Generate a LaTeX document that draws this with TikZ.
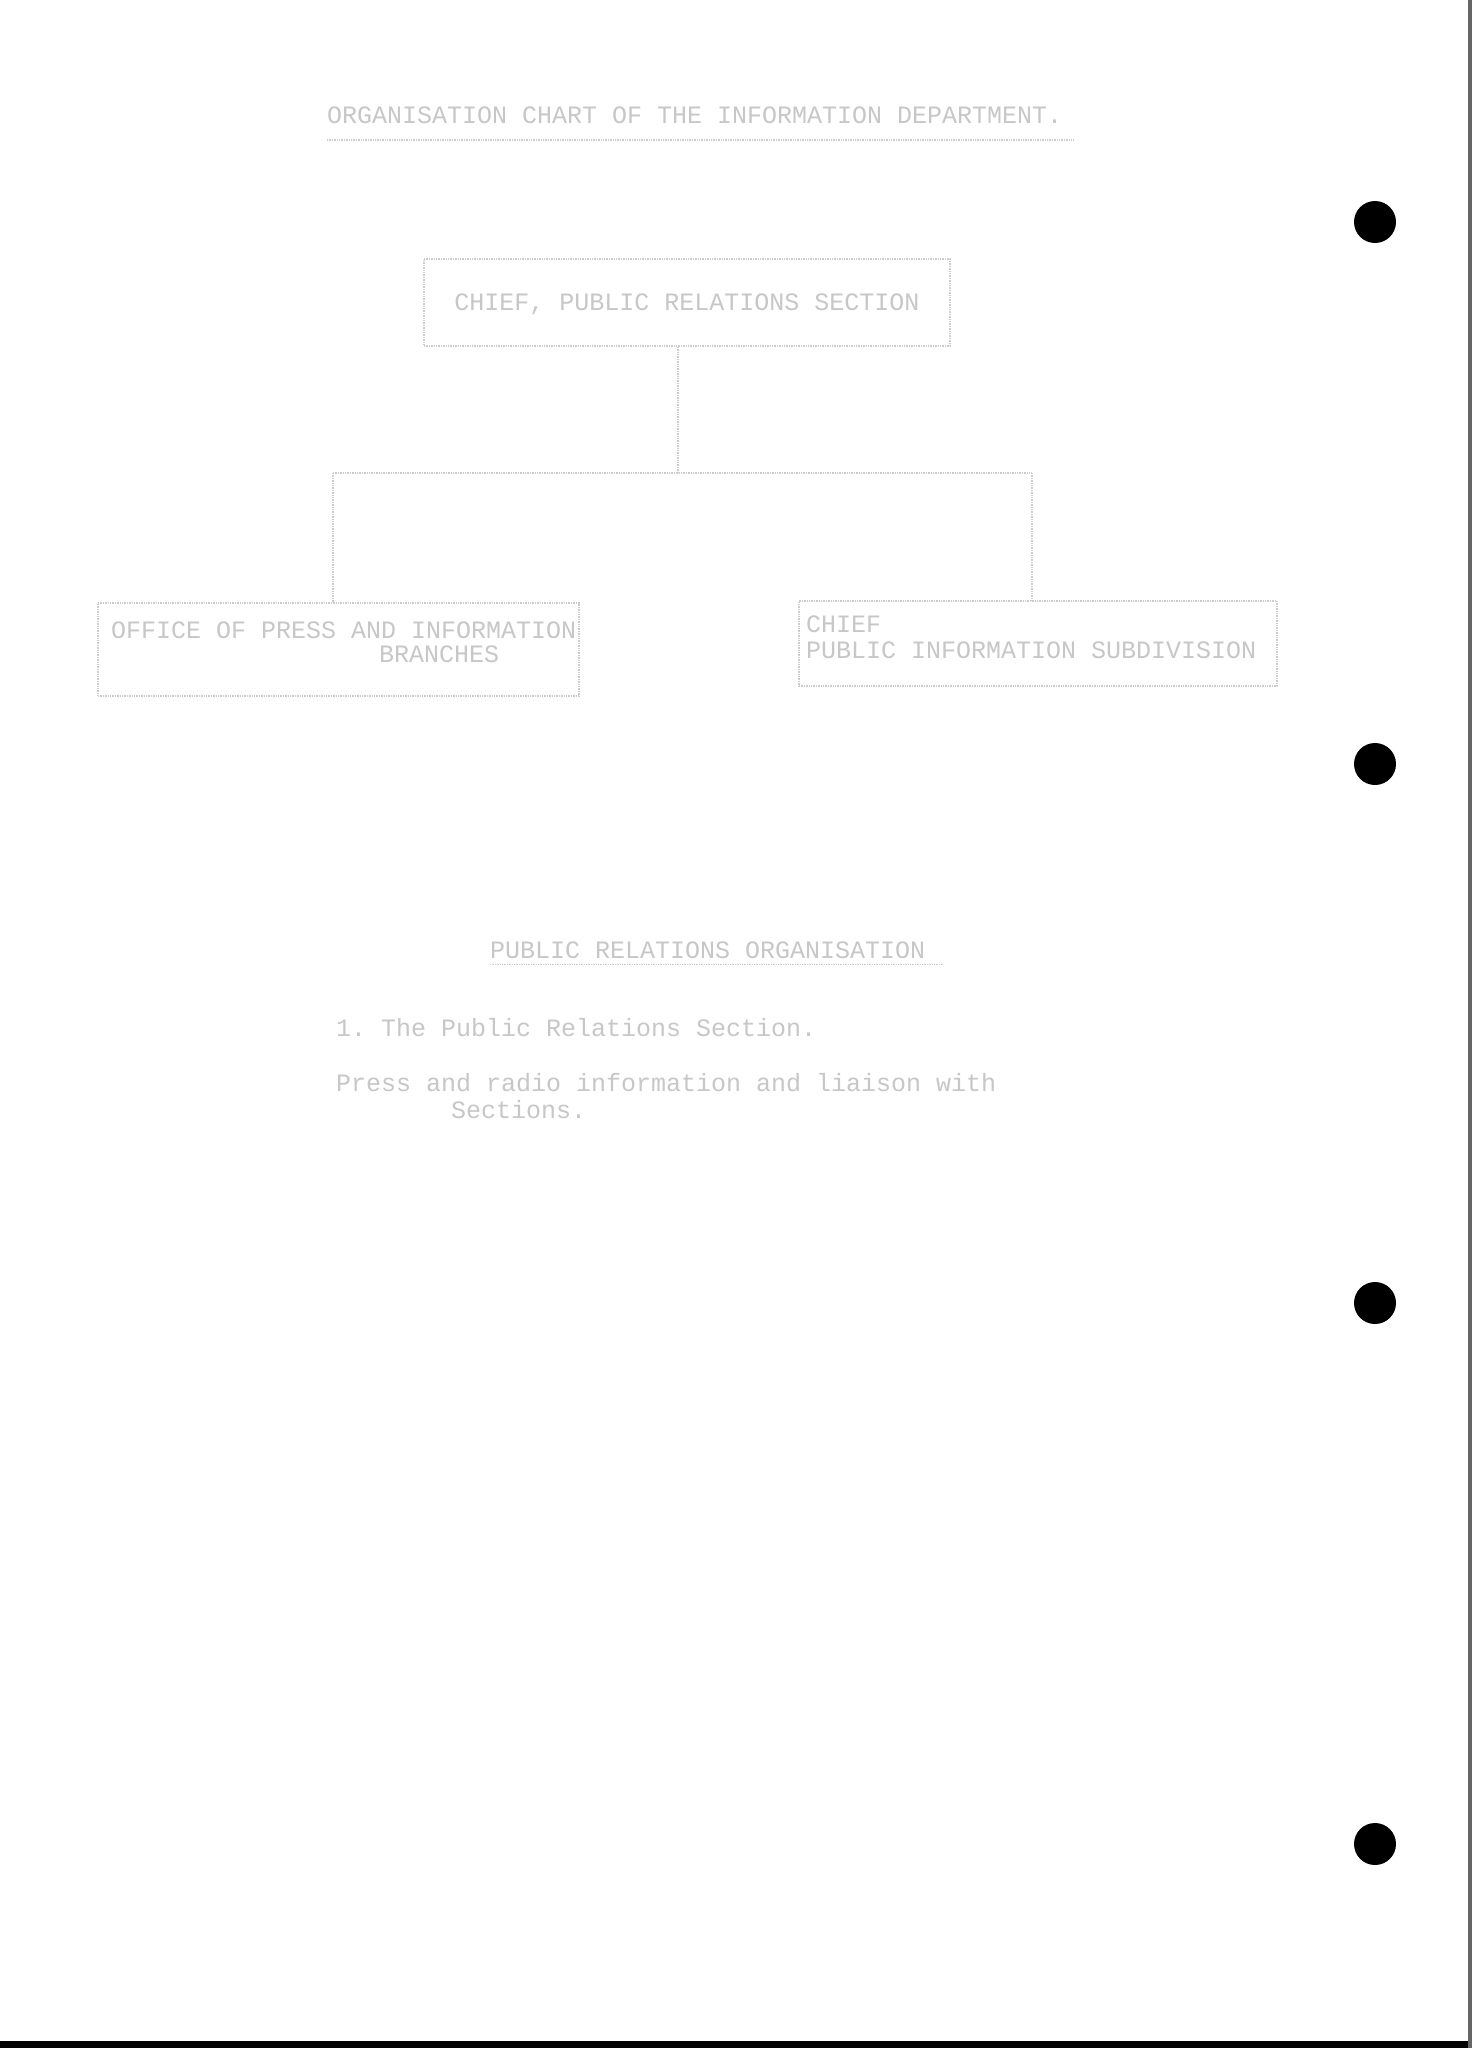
\documentclass[tikz,border=0pt]{standalone}
\usepackage{fontspec}
\setmonofont{Liberation Mono}
\begin{document}
\begin{tikzpicture}[x=1pt,y=-1pt,
  typed/.style={font=\ttfamily\fontsize{25}{30}\selectfont, text=black!22, inner sep=0pt, anchor=west},
  orgbox/.style={draw=black!20, line width=1.4pt, densely dotted, inner sep=0pt},
  link/.style={draw=black!20, line width=1.4pt, densely dotted},
  hole/.style={fill=black, draw=none}]
\useasboundingbox (0,0) rectangle (1472,2048);
\fill[white] (0,0) rectangle (1472,2048);
% page edges
\fill[black] (0,2041) rectangle (1472,2048);
\fill[black!60] (1468,0) rectangle (1472,2048);
% punch holes
\foreach \yy/\nm in {222/h1,764/h2,1303/h3,1844/h4}
  \node[hole, circle, minimum size=42pt] (\nm) at (1375,\yy) {};
% title
\node[typed] (title) at (327,115) {ORGANISATION CHART  OF THE  INFORMATION DEPARTMENT.};
\draw[link] (327,140) -- (1074,140);
% boxes
\node[orgbox, minimum width=526pt, minimum height=87pt] (top) at (687,302.5) {};
\node[typed, anchor=center] (toptext) at (687,304) {CHIEF, PUBLIC RELATIONS SECTION};
\node[orgbox, minimum width=481pt, minimum height=93pt] (lbox) at (338.5,649.5) {};
\node[typed] (ltext1) at (111,630) {OFFICE OF PRESS AND INFORMATION};
\node[typed] (ltext2) at (379,654) {BRANCHES};
\node[orgbox, minimum width=478pt, minimum height=85pt] (rbox) at (1038,643.5) {};
\node[typed] (rtext1) at (806,624) {CHIEF};
\node[typed] (rtext2) at (806,650) {PUBLIC INFORMATION SUBDIVISION};
% connectors
\coordinate (j) at (678,473);
\coordinate (jl) at (333,473);
\coordinate (jr) at (1032,473);
\draw[link] (top.south -| j) -- (j);
\draw[link] (jl) -- (jr);
\draw[link] (jl) -- (jl |- lbox.north);
\draw[link] (jr) -- (jr |- rbox.north);
% text section
\node[typed] (head) at (490,950) {PUBLIC RELATIONS ORGANISATION};
\draw[link] (head.south west) ++(0,6) -- ++(453,0);
\node[typed] (p1) at (336,1028) {1. The Public Relations Section.};
\node[typed] (p2) at (336,1083) {Press and radio information and liaison with};
\node[typed] (p3) at (451,1110) {Sections.};
\end{tikzpicture}
\end{document}
